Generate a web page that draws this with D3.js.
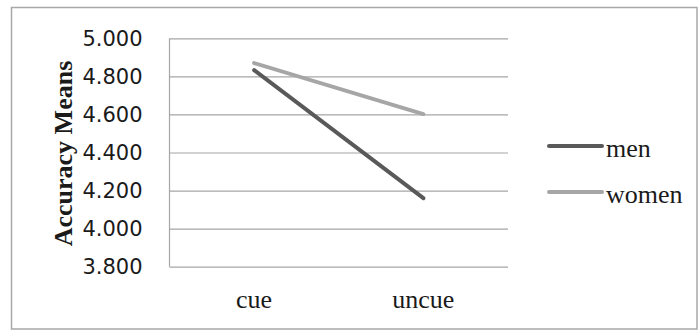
<!DOCTYPE html>
<html>
<head>
<meta charset="utf-8">
<script src="https://cdn.jsdelivr.net/npm/d3@7"></script>
<style>
  html, body { margin: 0; padding: 0; background: #fff; }
  svg { display: block; }
</style>
</head>
<body>
<svg id="chart" width="699" height="331"></svg>
<script>
// Accuracy means by cue condition, one line per group
const categories = ["cue", "uncue"];
const menValues = [4.833, 4.160];
const womenValues = [4.870, 4.602];
const seriesNames = ["men", "women"];
const seriesColors = ["#595959", "#a6a6a6"];
const yTicks = [3.8, 4.0, 4.2, 4.4, 4.6, 4.8, 5.0];

const series = [
  { name: seriesNames[0], color: seriesColors[0], values: menValues },
  { name: seriesNames[1], color: seriesColors[1], values: womenValues }
];

const serif = "'Liberation Serif', 'Times New Roman', serif";
const sans = "'DejaVu Sans', Verdana, sans-serif";

const svg = d3.select("#chart");

// outer frame
svg.append("rect")
  .attr("x", 11.5).attr("y", 7.5)
  .attr("width", 685.5).attr("height", 321.5)
  .attr("fill", "#fff")
  .attr("stroke", "#a8a8a8")
  .attr("stroke-width", 1.5);

const plot = { left: 169.5, right: 508, top: 38.3, bottom: 266.7 };

const x = d3.scaleBand()
  .domain(categories)
  .range([plot.left, plot.right])
  .padding(0);

const y = d3.scaleLinear()
  .domain([3.8, 5.0])
  .range([plot.bottom, plot.top]);

// horizontal gridlines with value labels
const yAxis = d3.axisLeft(y)
  .tickValues(yTicks)
  .tickSize(-(plot.right - plot.left))
  .tickPadding(27)
  .tickFormat(d3.format(".3f"));

const gy = svg.append("g")
  .attr("transform", `translate(${plot.left},0)`)
  .call(yAxis);
gy.select(".domain").remove();
gy.selectAll(".tick line")
  .attr("stroke", "#a6a6a6")
  .attr("stroke-width", 1.2);
gy.selectAll(".tick text")
  .attr("font-family", sans)
  .attr("font-size", 21)
  .attr("fill", "#1a1a1a")
  .attr("dy", "0.33em");

// vertical axis line
svg.append("line")
  .attr("x1", plot.left).attr("x2", plot.left)
  .attr("y1", plot.top).attr("y2", plot.bottom)
  .attr("stroke", "#a6a6a6")
  .attr("stroke-width", 1.2);

// category labels
const gx = svg.append("g")
  .attr("transform", `translate(0,${plot.bottom})`)
  .call(d3.axisBottom(x).tickSize(0).tickPadding(0));
gx.select(".domain").remove();
gx.selectAll(".tick text")
  .attr("font-family", serif)
  .attr("font-size", 26)
  .attr("fill", "#1a1a1a")
  .attr("dy", null)
  .attr("y", 41);

// y-axis title
svg.append("text")
  .attr("transform", `translate(72,${(plot.top + plot.bottom) / 2 + 1}) rotate(-90)`)
  .attr("text-anchor", "middle")
  .attr("font-family", serif)
  .attr("font-weight", "bold")
  .attr("font-size", 26)
  .attr("fill", "#1a1a1a")
  .text("Accuracy Means");

// data lines
const line = d3.line()
  .x((d, i) => x(categories[i]) + x.bandwidth() / 2)
  .y(d => y(d));

svg.append("g")
  .selectAll("path")
  .data(series)
  .join("path")
  .attr("d", d => line(d.values))
  .attr("fill", "none")
  .attr("stroke", d => d.color)
  .attr("stroke-width", 4)
  .attr("stroke-linecap", "round")
  .attr("stroke-linejoin", "round");

// legend
const legendY = d3.scalePoint().domain(seriesNames).range([146, 192]);
const legend = svg.append("g")
  .selectAll("g")
  .data(series)
  .join("g")
  .attr("transform", d => `translate(0,${legendY(d.name)})`);
legend.append("line")
  .attr("x1", 549).attr("x2", 602)
  .attr("y1", 0).attr("y2", 0)
  .attr("stroke", d => d.color)
  .attr("stroke-width", 4)
  .attr("stroke-linecap", "round");
legend.append("text")
  .attr("x", 606)
  .attr("y", 11)
  .attr("font-family", serif)
  .attr("font-size", 26)
  .attr("fill", "#1a1a1a")
  .text(d => d.name);
</script>
</body>
</html>
